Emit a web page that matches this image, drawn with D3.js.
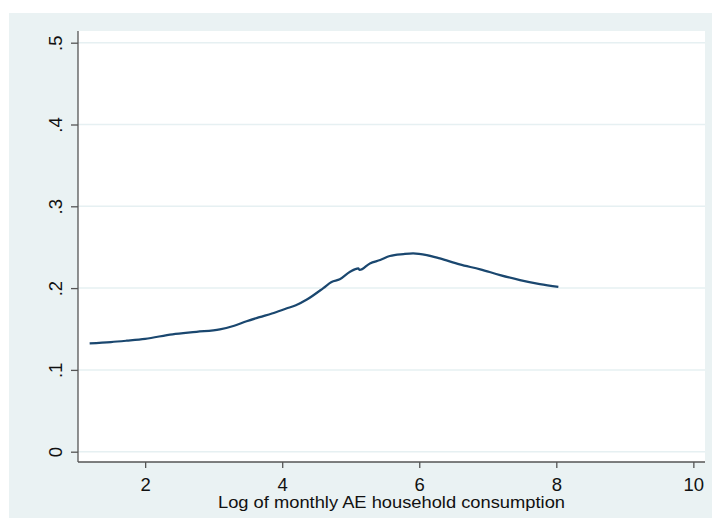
<!DOCTYPE html>
<html lang="en">
<head>
<meta charset="UTF-8">
<title>Density by log consumption</title>
<script src="https://d3js.org/d3.v7.min.js"></script>
<style>
  body { margin: 0; background: #fff; }
  text { font-family: "Liberation Sans", Arial, sans-serif; fill: #111; }
</style>
</head>
<body>
<div id="chart"></div>
<script>
// values
const logCons = [1.19, 1.5, 1.73, 2.0, 2.4, 2.75, 3.09, 3.3, 3.48, 3.67, 3.85, 4.06, 4.2, 4.36, 4.6, 4.72, 4.84, 4.99, 5.11, 5.13, 5.28, 5.43, 5.57, 5.77, 5.91, 6.11, 6.3, 6.59, 6.89, 7.18, 7.47, 7.76, 8.03];
const share = [0.1325, 0.134, 0.1357, 0.138, 0.1435, 0.1465, 0.1495, 0.154, 0.1595, 0.1645, 0.169, 0.175, 0.179, 0.186, 0.200, 0.2075, 0.2107, 0.220, 0.2242, 0.2221, 0.2302, 0.2343, 0.2392, 0.2416, 0.2425, 0.2404, 0.2363, 0.229, 0.2229, 0.2159, 0.2098, 0.2049, 0.2016];
const xTicks = [2, 4, 6, 8, 10];
const yTicks = [0, 0.1, 0.2, 0.3, 0.4, 0.5];
const yTickLabels = ['0', '.1', '.2', '.3', '.4', '.5'];

const W = 712, H = 518;
const svg = d3.select('#chart').append('svg')
    .attr('width', W)
    .attr('height', H);

// outer graph region
svg.append('rect')
    .attr('x', 9).attr('y', 13)
    .attr('width', W - 9).attr('height', H - 13)
    .attr('fill', '#eaf2f3');

const plot = { left: 78, top: 31, right: 705, bottom: 462 };

svg.append('rect')
    .attr('x', plot.left).attr('y', plot.top)
    .attr('width', plot.right - plot.left)
    .attr('height', plot.bottom - plot.top)
    .attr('fill', '#fff');

const x = d3.scaleLinear().domain([1.02, 10.17]).range([plot.left, plot.right]);
const y = d3.scaleLinear().domain([-0.0126, 0.5143]).range([plot.bottom, plot.top]);

// gridlines
svg.append('g')
    .selectAll('line')
    .data(yTicks)
    .join('line')
    .attr('x1', plot.left).attr('x2', plot.right)
    .attr('y1', d => y(d)).attr('y2', d => y(d))
    .attr('stroke', '#e6f0f2')
    .attr('stroke-width', 1.5);

// y axis
const yAxis = svg.append('g')
    .attr('transform', `translate(${plot.left},0)`)
    .call(d3.axisLeft(y).tickValues(yTicks).tickSize(7).tickSizeOuter(0)
        .tickFormat((d, i) => yTickLabels[i]));
yAxis.select('.domain').attr('stroke', '#555').attr('stroke-width', 1.3)
    .attr('d', `M0,${plot.top}V${plot.bottom}`);
yAxis.selectAll('.tick line').attr('stroke', '#555').attr('stroke-width', 1.3);
yAxis.selectAll('.tick text')
    .attr('x', null).attr('dy', null)
    .attr('transform', 'translate(-16,0) rotate(-90)')
    .attr('text-anchor', 'middle')
    .style('font-size', '18.5px')
    .style('font-family', '"Liberation Sans", Arial, sans-serif')
    .attr('fill', '#111');

// x axis
const xAxis = svg.append('g')
    .attr('transform', `translate(0,${plot.bottom})`)
    .call(d3.axisBottom(x).tickValues(xTicks).tickSize(6).tickSizeOuter(0));
xAxis.select('.domain').attr('stroke', '#555').attr('stroke-width', 1.3)
    .attr('d', `M${plot.left},0H${plot.right}`);
xAxis.selectAll('.tick line').attr('stroke', '#555').attr('stroke-width', 1.3);
xAxis.selectAll('.tick text')
    .attr('y', 28.7).attr('dy', null)
    .style('font-size', '18.5px')
    .style('font-family', '"Liberation Sans", Arial, sans-serif')
    .attr('fill', '#111');

svg.append('text')
    .attr('x', 391.5)
    .attr('y', 508.3)
    .attr('text-anchor', 'middle')
    .attr('textLength', 347)
    .attr('lengthAdjust', 'spacingAndGlyphs')
    .style('font-size', '17px')
    .text('Log of monthly AE household consumption');

// curve
const pts = logCons.map((v, i) => [v, share[i]]);
svg.append('path')
    .datum(pts)
    .attr('fill', 'none')
    .attr('stroke', '#1a476f')
    .attr('stroke-width', 2.2)
    .attr('stroke-linejoin', 'round')
    .attr('d', d3.line().curve(d3.curveMonotoneX).x(d => x(d[0])).y(d => y(d[1])));
</script>
</body>
</html>
